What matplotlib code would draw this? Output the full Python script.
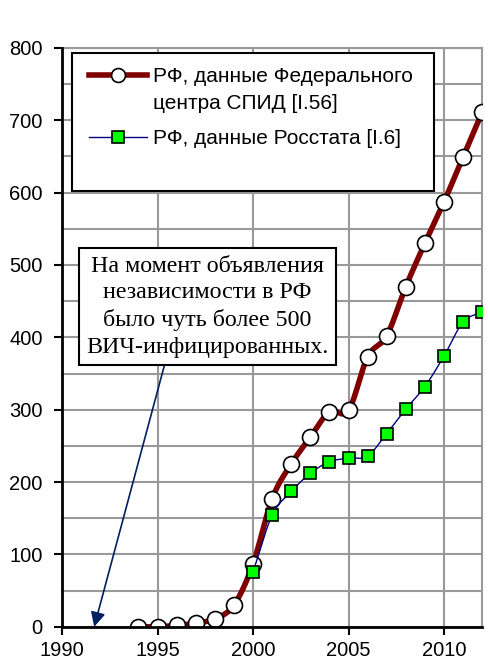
import numpy as np
import matplotlib.pyplot as plt
from matplotlib.lines import Line2D
from matplotlib.patches import Rectangle

# data
years_fc = [1994, 1995, 1996, 1997, 1998, 1999, 2000, 2001, 2002, 2003,
            2004, 2005, 2006, 2007, 2008, 2009, 2010, 2011, 2012]
vals_fc = [0, 0, 2, 5, 11, 30, 87, 177, 225, 262,
           297, 299, 373, 402, 470, 530, 587, 649, 711]

years_rs = [2000, 2001, 2002, 2003, 2004, 2005, 2006, 2007, 2008,
            2009, 2010, 2011, 2012]
vals_rs = [76, 154, 187, 212, 228, 233, 236, 267, 301, 332, 374, 421, 435]

label_fc = ['РФ, данные Федерального', 'центра СПИД [I.56]']
label_rs = 'РФ, данные Росстата [I.6]'
note = 'На момент объявления\nнезависимости в РФ\nбыло чуть более 500\nВИЧ-инфицированных.'

RED = '#800000'
NAVY = '#000080'
GREEN = '#00ff00'


def smooth(x, y, n=24):
    # catmull-rom curve through the points (like excel "smoothed line")
    x = np.asarray(x, float)
    y = np.asarray(y, float)
    px = np.concatenate([[2 * x[0] - x[1]], x, [2 * x[-1] - x[-2]]])
    py = np.concatenate([[2 * y[0] - y[1]], y, [2 * y[-1] - y[-2]]])
    xs, ys = [], []
    t = np.linspace(0, 1, n)
    for i in range(1, len(px) - 2):
        for p, out in ((px, xs), (py, ys)):
            p0, p1, p2, p3 = p[i - 1], p[i], p[i + 1], p[i + 2]
            out.extend(0.5 * (2 * p1 + (-p0 + p2) * t
                              + (2 * p0 - 5 * p1 + 4 * p2 - p3) * t ** 2
                              + (-p0 + 3 * p1 - 3 * p2 + p3) * t ** 3))
    return np.array(xs), np.array(ys)


plt.rcParams['font.family'] = ['Liberation Sans', 'DejaVu Sans']

fig = plt.figure(figsize=(4.89, 6.64), dpi=100)
ax = fig.add_axes([0.127, 0.056, 0.859, 0.872])

sx, sy = smooth(years_fc, vals_fc)
ax.plot(sx, sy, color=RED, lw=4, zorder=3, solid_capstyle='round')
ax.plot(years_fc, vals_fc, ls='none', marker='o', ms=11.5, mfc='white',
        mec='black', mew=1.2, zorder=4)

sx, sy = smooth(years_rs, vals_rs)
ax.plot(sx, sy, color=NAVY, lw=1, zorder=5)
ax.plot(years_rs, vals_rs, ls='none', marker='s', ms=8, mfc=GREEN,
        mec='black', mew=1.2, zorder=6)

ax.set_xlim(1990, 2012)
ax.set_ylim(0, 800)
ax.set_xticks(np.arange(1990, 2011, 5))
ax.set_yticks(np.arange(0, 801, 100))
ax.set_yticks(np.arange(50, 800, 100), minor=True)
ax.tick_params(axis='both', labelsize=14.5, length=6, width=1.5, direction='out')
ax.tick_params(axis='y', pad=8)
ax.tick_params(axis='x', pad=4)
ax.tick_params(axis='y', which='minor', length=0)
ax.grid(True, which='both', color='#999999', lw=1.5, zorder=1)
ax.set_axisbelow(True)
for s in ('top', 'right'):
    ax.spines[s].set_color('#999999')
    ax.spines[s].set_linewidth(1.5)
for s in ('left', 'bottom'):
    ax.spines[s].set_linewidth(2)
    ax.spines[s].set_zorder(7)

# legend box
ax.add_patch(Rectangle((0.024, 0.753), 0.862, 0.238, transform=ax.transAxes,
                       facecolor='white', edgecolor='black', lw=1.5, zorder=8))
h_fc = Line2D([], [], color=RED, lw=4, marker='o', ms=10,
              mfc='white', mec='black', mew=1.2)
h_blank = Line2D([], [], color='none')
h_rs = Line2D([], [], color=NAVY, lw=1, marker='s', ms=8,
              mfc=GREEN, mec='black', mew=1.2)
common = dict(frameon=False, fontsize=15, handlelength=2.8, handletextpad=0.25,
              borderpad=0, borderaxespad=0, loc='center left')
leg1 = ax.legend([h_fc, h_blank], label_fc, labelspacing=0.38,
                 bbox_to_anchor=(0.064, 0.927), **common)
leg1.set_zorder(9)
ax.add_artist(leg1)
leg2 = ax.legend([h_rs], [label_rs], bbox_to_anchor=(0.064, 0.843), **common)
leg2.set_zorder(9)

# note with arrow
ax.annotate('', xy=(1991.68, 0), xytext=(1995.6, 385),
            arrowprops=dict(arrowstyle='-|>', color='#002060', lw=1.2,
                            mutation_scale=22, shrinkA=0, shrinkB=0), zorder=8)
ax.text(1997.6, 442, note, ha='center', va='center', fontsize=17.3,
        family=['Liberation Serif', 'DejaVu Serif'], linespacing=1.36,
        bbox=dict(boxstyle='square,pad=0.3', fc='white', ec='black', lw=1.5),
        zorder=9)

fig.savefig('out.png', dpi=100)
